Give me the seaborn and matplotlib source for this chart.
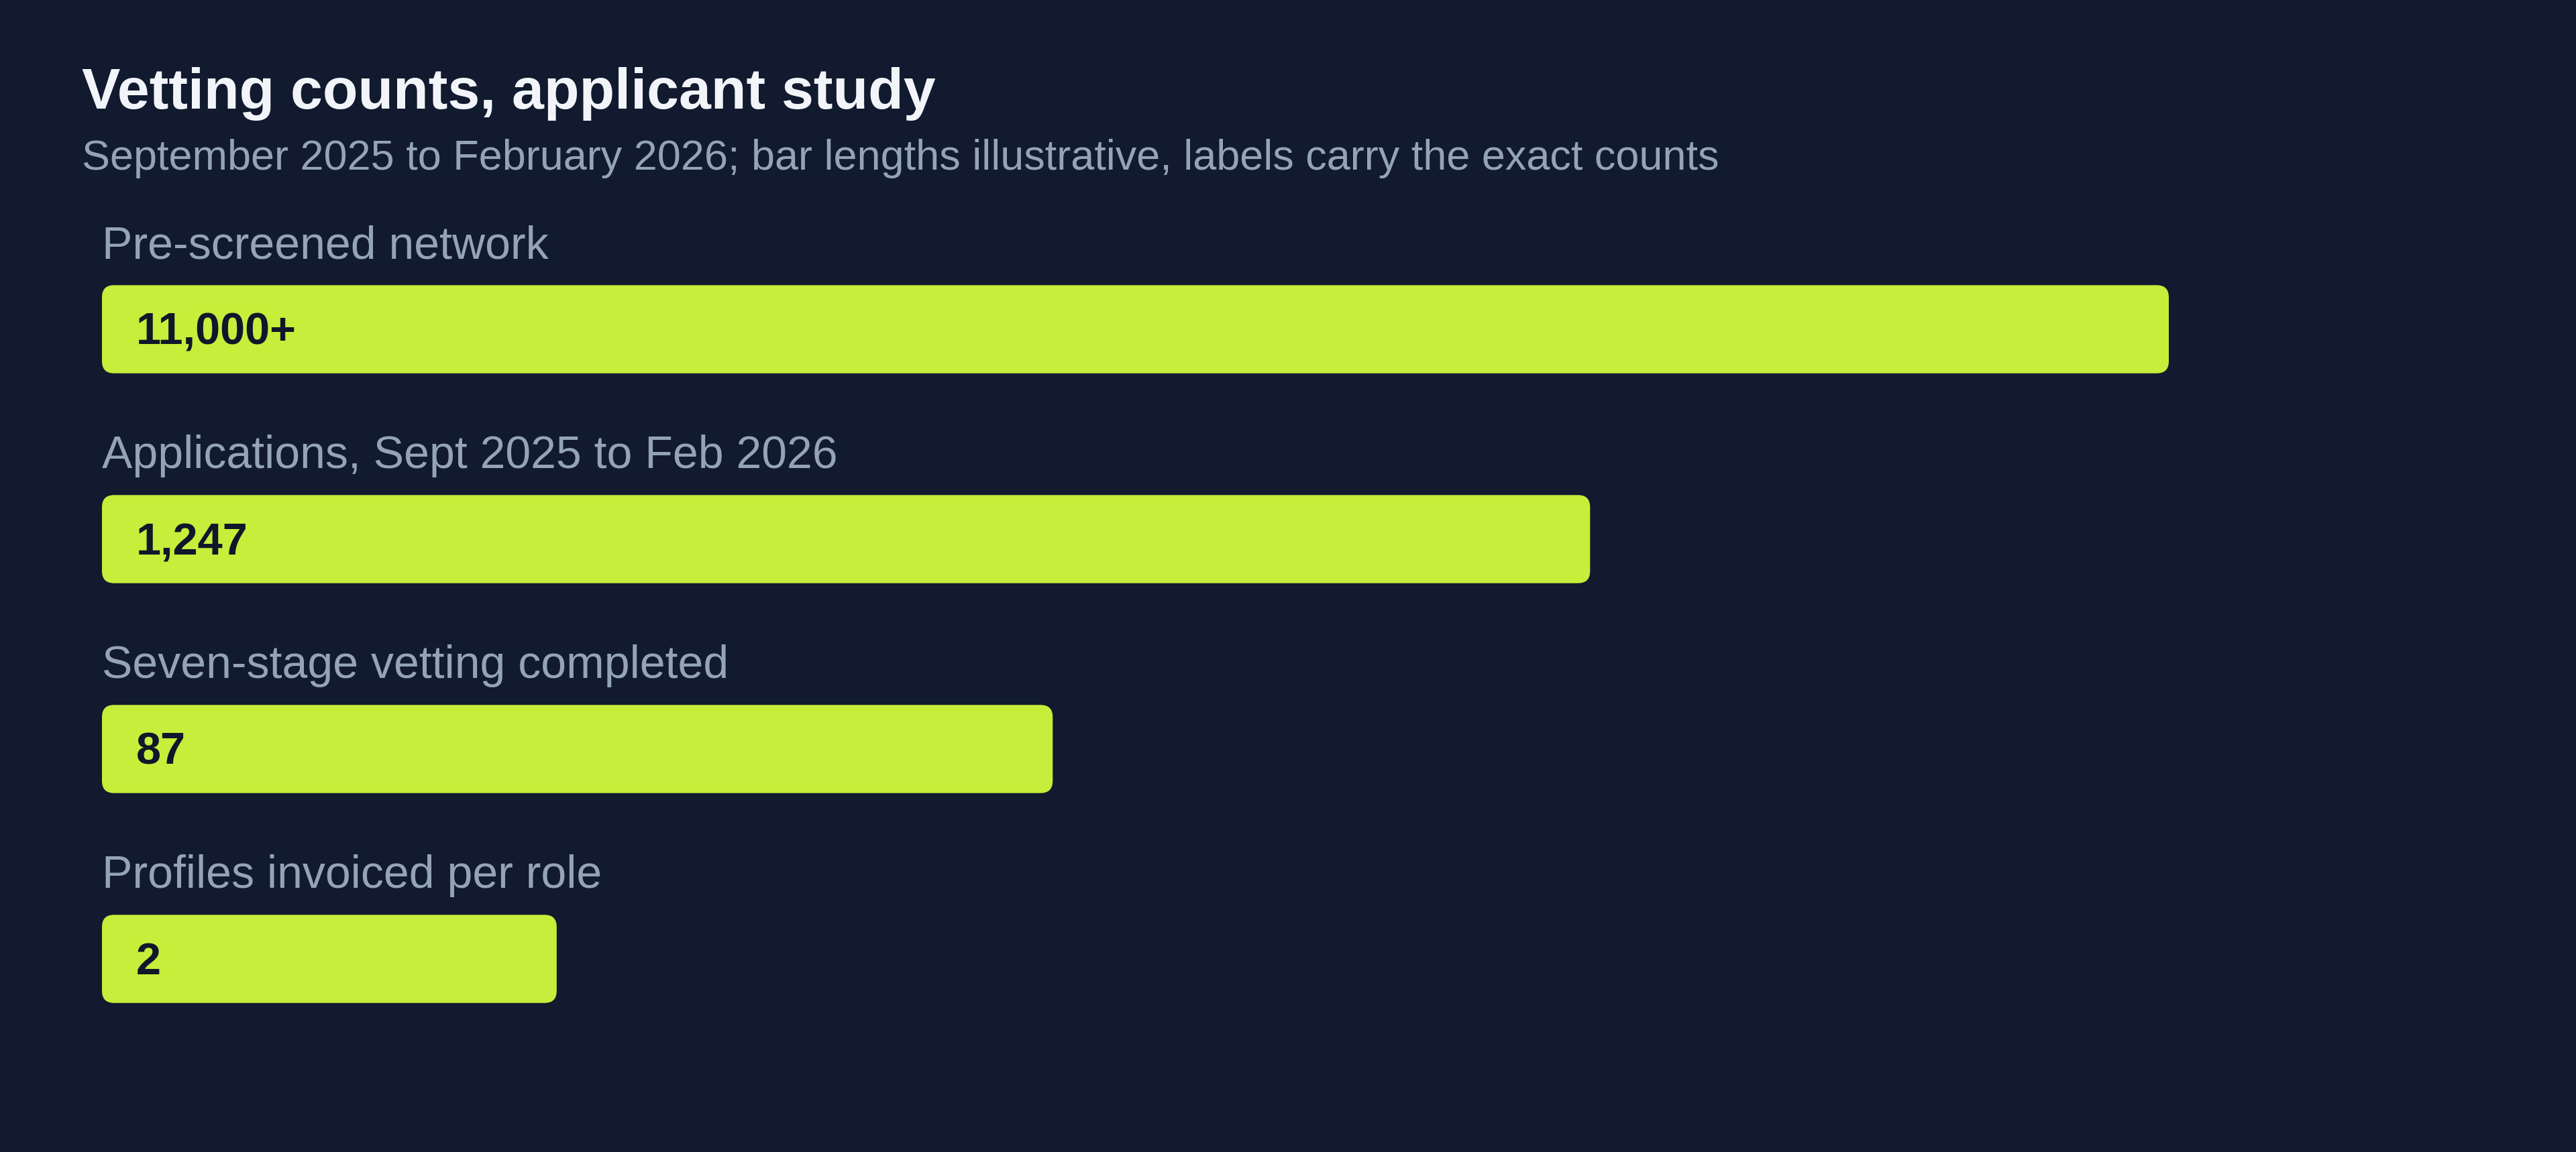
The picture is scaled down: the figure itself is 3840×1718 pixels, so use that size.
import matplotlib
matplotlib.use("Agg")
import matplotlib.pyplot as plt
import seaborn as sns
import pandas as pd
from matplotlib.patches import FancyBboxPatch

# --- Data
stages = [
    "Pre-screened network",
    "Applications, Sept 2025 to Feb 2026",
    "Seven-stage vetting completed",
    "Profiles invoiced per role",
]
count_labels = ["11,000+", "1,247", "87", "2"]
bar_length = [100, 72, 46, 22]  # illustrative lengths, not to scale

BG = "#111a2e"
LIME = "#c6ee3a"
TITLE_C = "#f1f5f9"
MUTED = "#94a3b8"
DARK = "#0f172a"

sns.set_theme(style="white")
plt.rcParams["font.family"] = ["Liberation Sans", "DejaVu Sans"]

W, H = 3840, 1718
fig = plt.figure(figsize=(W / 100, H / 100), dpi=100, facecolor=BG)

# axes box in pixels: x from bar start, y spanning the four rows
left_px, right_px = 152, 152 + 3081
row_px = 313
top_px = 491 - row_px / 2
bot_px = 1430 + row_px / 2
ax = fig.add_axes([left_px / W, 1 - bot_px / H,
                   (right_px - left_px) / W, (bot_px - top_px) / H])
ax.set_facecolor(BG)

df = pd.DataFrame({"stage": stages, "length": bar_length, "label": count_labels})
sns.barplot(data=df, x="length", y="stage", orient="h", color=LIME,
            width=0.42, saturation=1, ax=ax)
ax.set_xlim(0, 100)
ax.set_ylim(3.5, -0.5)
ax.axis("off")

# rounded bars
xpx = (right_px - left_px) / 100.0
ypx = row_px
radius = 18 / xpx
for p in list(ax.patches):
    x, y = p.get_x(), p.get_y()
    w, h = p.get_width(), p.get_height()
    p.remove()
    ax.add_patch(FancyBboxPatch(
        (x, y), w, h,
        boxstyle=f"round,pad=0,rounding_size={radius}",
        mutation_aspect=xpx / ypx,
        facecolor=LIME, edgecolor="none", zorder=2))

for i, row in df.iterrows():
    ax.text(0, i - 0.338, row["stage"], color=MUTED, fontsize=49,
            ha="left", va="baseline")
    ax.text(51 / xpx, i + 6 / ypx, row["label"], color=DARK, fontsize=48,
            fontweight="bold", ha="left", va="center", zorder=3)

fig.text(122 / W, 1 - 162 / H, "Vetting counts, applicant study",
         color=TITLE_C, fontsize=62, fontweight="bold", va="baseline")
fig.text(122 / W, 1 - 253 / H,
         "September 2025 to February 2026; bar lengths illustrative, labels carry the exact counts",
         color=MUTED, fontsize=45.4, va="baseline")

fig.savefig("out.png", dpi=100, facecolor=BG)
